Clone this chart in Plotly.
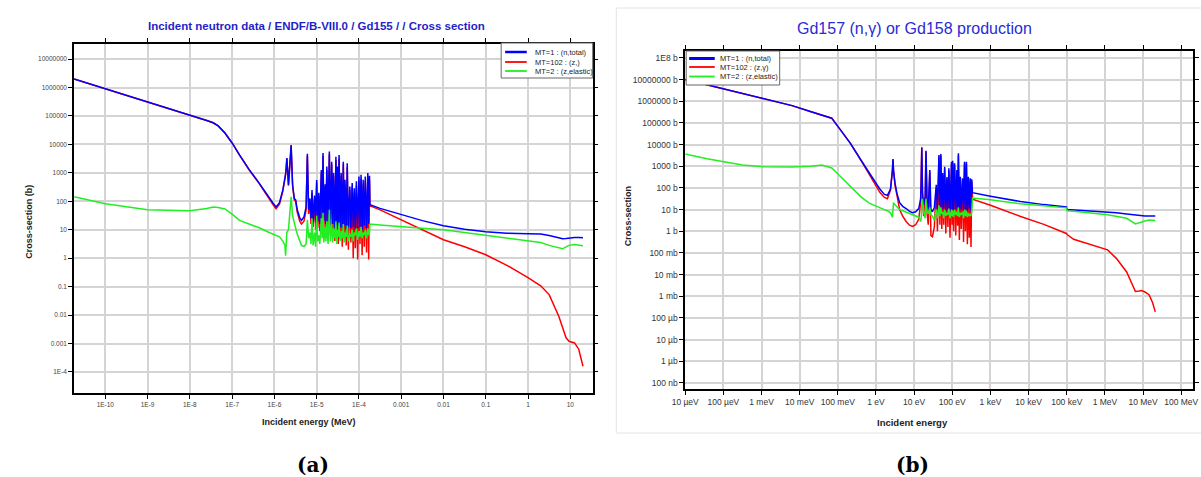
import plotly.graph_objects as go

W, H = 1201, 477

# ---------------- Panel (a): Gd155, energy in MeV (values stored as log10) ----------------
A1_LOGE = [-10.74, -10.0, -9.0, -8.0, -7.6, -7.45, -7.33, -7.17, -7.0, -6.825, -6.6, -6.36, -6.15, -6.03, -5.96, -5.88, -5.8]
A1_TOT = [6.3, 5.96, 5.5, 5.03, 4.84, 4.76, 4.65, 4.4, 4.05, 3.63, 3.12, 2.64, 2.17, 1.93, 1.8, 1.95, 2.4]
A1_CAP = [6.3, 5.96, 5.5, 5.03, 4.84, 4.76, 4.65, 4.4, 4.05, 3.62, 3.11, 2.62, 2.13, 1.88, 1.74, 1.9, 2.36]
A1_ELA = [2.16, 1.91, 1.7, 1.67, 1.75, 1.8, 1.78, 1.73, 1.55, 1.33, 1.2, 1.07, 0.92, 0.85, 0.8, 0.75, 0.6]

A2_LOGE = [-5.75, -5.736, -5.72, -5.705, -5.667, -5.604, -5.57, -5.53, -5.497, -5.46, -5.40, -5.36, -5.30, -5.25,
           -5.22, -5.19, -5.16, -5.135, -5.11, -5.085, -5.05, -5.025, -5.0, -4.975, -4.95, -4.925, -4.89, -4.87,
           -4.85, -4.83, -4.80, -4.78, -4.76, -4.73, -4.70, -4.675, -4.645, -4.62, -4.60, -4.57, -4.545, -4.525,
           -4.51, -4.49, -4.47, -4.445, -4.42, -4.395, -4.37, -4.35, -4.33, -4.30, -4.277, -4.25, -4.215, -4.19,
           -4.16, -4.135, -4.11, -4.085, -4.06, -4.03, -4.0, -3.975, -3.95, -3.925, -3.9, -3.875, -3.85, -3.82,
           -3.79, -3.77, -3.75]
A2_TOT = [2.75, 2.95, 3.2, 3.52, 2.58, 3.98, 2.6, 2.1, 2.05, 1.7, 1.42, 1.33, 1.45, 1.8,
          3.67, 1.7, 2.1, 1.4, 2.4, 1.3, 2.2, 1.25, 2.75, 1.3, 2.3, 1.2, 3.1, 1.4,
          3.7, 1.3, 2.6, 1.2, 3.22, 1.3, 3.75, 1.1, 3.39, 1.2, 2.99, 1.05, 3.57, 1.15,
          3.22, 1.0, 3.63, 1.1, 2.99, 1.05, 3.39, 1.15, 2.76, 1.0, 3.34, 1.1, 2.52, 1.05,
          2.64, 1.1, 2.46, 1.0, 2.7, 1.05, 2.87, 1.1, 2.93, 1.0, 2.76, 1.15, 2.87, 1.05,
          2.99, 1.2, 2.9]
A2_CAP = [2.72, 2.93, 3.18, 3.5, 2.55, 3.95, 2.55, 2.05, 2.0, 1.62, 1.3, 1.2, 1.3, 1.7,
          3.6, 1.55, 2.0, 1.2, 2.3, 1.1, 2.1, 1.0, 2.65, 1.05, 2.2, 0.95, 3.0, 1.1,
          3.6, 1.0, 2.5, 0.9, 3.1, 0.9, 3.65, 0.8, 3.3, 0.7, 2.9, 0.6, 3.45, 0.75,
          3.1, 0.5, 3.5, 0.65, 2.9, 0.4, 3.3, 0.7, 2.6, 0.45, 3.2, 0.3, 2.4, 0.55,
          2.5, 0.0, 2.3, 0.35, 2.55, -0.05, 2.7, 0.5, 2.8, 0.1, 2.6, 0.4, 2.7, 0.2,
          2.85, -0.05, 2.75]
A2_ELA = [0.45, 0.09, 0.6, 0.9, 1.0, 2.16, 1.5, 1.2, 1.05, 0.85, 0.6, 0.45, 0.41, 0.5,
          1.35, 0.7, 0.9, 0.5, 1.4, 0.45, 0.9, 0.4, 1.5, 0.6, 0.8, 0.5, 1.4, 0.7,
          1.6, 0.55, 1.1, 0.6, 1.3, 0.5, 1.7, 0.6, 1.2, 0.55, 1.05, 0.7, 1.3, 0.5,
          1.0, 0.75, 1.25, 0.6, 0.95, 0.7, 1.2, 0.55, 0.9, 0.75, 1.15, 0.6, 0.85, 0.75,
          1.0, 0.6, 0.9, 0.8, 1.05, 0.65, 0.95, 0.75, 1.1, 0.7, 0.9, 0.8, 1.0, 0.7,
          1.05, 0.8, 0.9]

A3_LOGE = [-3.74, -3.5, -3.0, -2.5, -2.0, -1.5, -1.0, -0.5, 0.0, 0.3, 0.5, 0.73, 0.82, 0.9, 0.97, 1.1, 1.2, 1.3]
A3_TOT = [1.88, 1.75, 1.53, 1.32, 1.14, 1.02, 0.93, 0.88, 0.86, 0.85, 0.8, 0.71, 0.68, 0.69, 0.71, 0.73, 0.73, 0.72]
A3_CAP = [1.84, 1.7, 1.35, 1.0, 0.65, 0.4, 0.12, -0.25, -0.68, -0.97, -1.28, -2.05, -2.45, -2.8, -2.92, -2.98, -3.2, -3.8]
A3_ELA = [1.2, 1.17, 1.1, 1.05, 1.0, 0.9, 0.82, 0.72, 0.62, 0.55, 0.45, 0.36, 0.33, 0.4, 0.45, 0.48, 0.47, 0.44]

# ---------------- Panel (b): Gd157, energy in eV (values stored as log10) ----------------
B1_LOGE = [-5.0, -4.43, -3.5, -2.94, -2.2, -1.7, -1.42, -1.16, -0.97, -0.67, -0.4, -0.18, 0.1, 0.22, 0.3]
B1_TOT = [7.0, 6.75, 6.35, 6.1, 5.8, 5.52, 5.37, 5.22, 4.77, 4.06, 3.3, 2.69, 1.95, 1.7, 1.66]
B1_CAP = [7.0, 6.75, 6.35, 6.1, 5.8, 5.52, 5.37, 5.22, 4.77, 4.06, 3.29, 2.66, 1.8, 1.56, 1.5]
B1_ELA = [3.57, 3.35, 3.06, 2.98, 2.97, 3.0, 3.06, 2.92, 2.6, 2.05, 1.6, 1.3, 1.07, 1.0, 0.95]

B2_LOGE = [0.38, 0.42, 0.43, 0.446, 0.46, 0.50, 0.55, 0.62, 0.70, 0.79, 0.88, 0.96, 1.04, 1.12, 1.17, 1.185,
           1.2, 1.22, 1.25, 1.29, 1.31, 1.34, 1.37, 1.41, 1.44, 1.48, 1.53, 1.58, 1.61, 1.65, 1.675, 1.70,
           1.725, 1.75, 1.775, 1.80, 1.83, 1.86, 1.885, 1.91, 1.94, 1.98, 1.995, 2.01, 2.035, 2.06, 2.09,
           2.12, 2.14, 2.16, 2.185, 2.21, 2.235, 2.27, 2.295, 2.32, 2.345, 2.37, 2.395, 2.42, 2.445, 2.47,
           2.49, 2.51]
B2_TOT = [1.95, 2.5, 2.8, 3.33, 2.8, 2.2, 1.75, 1.32, 1.15, 1.05, 0.92, 0.86, 0.9, 1.05, 1.5, 2.2,
          3.88, 1.8, 1.2, 1.6, 3.72, 1.3, 1.0, 2.83, 1.0, 0.9, 1.1, 2.14, 1.0, 3.52, 1.1, 3.57,
          1.0, 2.69, 1.05, 2.98, 0.95, 2.5, 1.0, 2.91, 0.9, 3.21, 1.0, 3.25, 0.95, 3.14, 1.0,
          2.83, 1.05, 3.6, 0.9, 2.52, 1.0, 2.45, 0.95, 3.21, 1.0, 3.21, 0.9, 2.52, 1.05, 2.45,
          0.95, 2.4]
B2_CAP = [1.9, 2.48, 2.78, 3.31, 2.77, 2.12, 1.6, 1.0, 0.7, 0.45, 0.28, 0.22, 0.3, 0.55, 1.3, 2.1,
          3.85, 1.5, 0.7, 1.4, 3.68, 0.8, 0.3, 2.75, -0.2, -0.25, 0.2, 2.0, 0.0, 3.45, 0.3, 3.5,
          0.1, 2.6, 0.3, 2.9, -0.1, 2.4, 0.2, 2.8, -0.3, 3.1, 0.3, 3.15, 0.0, 3.05, -0.2,
          2.7, 0.25, 3.5, -0.4, 2.4, 0.1, 2.35, -0.5, 3.1, 0.0, 3.1, -0.6, 2.4, -0.3, 2.3,
          -0.72, 2.3]
B2_ELA = [0.85, 0.7, 0.64, 1.0, 1.32, 1.22, 1.12, 1.0, 0.95, 0.88, 0.8, 0.75, 0.7, 0.65, 0.45, 0.6,
          1.2, 1.5, 0.9, 0.6, 1.5, 0.9, 0.8, 1.1, 0.75, 0.7, 0.5, 1.0, 0.6, 1.2, 0.7, 1.1,
          0.8, 0.9, 0.6, 1.0, 0.7, 0.85, 0.75, 1.05, 0.6, 1.0, 0.7, 0.95, 0.65, 1.0, 0.75,
          0.9, 0.7, 1.1, 0.65, 0.85, 0.75, 0.9, 0.6, 1.0, 0.7, 0.95, 0.65, 0.85, 0.7, 0.8,
          0.7, 0.9]

B3_LOGE = [2.53, 3.0, 3.79, 4.4, 4.78, 4.99, 5.01, 5.18, 6.07, 6.3, 6.57, 6.8, 6.9, 6.96, 7.05, 7.16, 7.25, 7.32]
B3_TOT = [1.78, 1.62, 1.37, 1.23, 1.14, 1.12, 1.0, 0.98, 0.9, 0.85, 0.8, 0.76, 0.73, 0.71, 0.71, 0.71, 0.71, 0.71]
B3_CAP = [1.48, 1.2, 0.68, 0.32, 0.06, -0.1, -0.15, -0.37, -0.86, -1.25, -1.88, -2.78, -2.76, -2.74, -2.8, -2.94, -3.3, -3.72]
B3_ELA = [1.53, 1.45, 1.27, 1.18, 1.12, 1.08, 0.94, 0.92, 0.76, 0.7, 0.6, 0.34, 0.4, 0.44, 0.47, 0.52, 0.51, 0.5]

# ---------------- Tick labels / text ----------------
A_XTICK_TEXT = ["1E-10", "1E-9", "1E-8", "1E-7", "1E-6", "1E-5", "1E-4", "0.001", "0.01", "0.1", "1", "10"]
A_XTICK_EXP = list(range(-10, 2))
A_YTICK_TEXT = ["10000000", "1000000", "100000", "10000", "1000", "100", "10", "1", "0.1", "0.01", "0.001", "1E-4"]
A_YTICK_EXP = list(range(7, -5, -1))
B_XTICK_TEXT = ["10 µeV", "100 µeV", "1 meV", "10 meV", "100 meV", "1 eV", "10 eV", "100 eV", "1 keV",
                "10 keV", "100 keV", "1 MeV", "10 MeV", "100 MeV"]
B_XTICK_EXP = list(range(-5, 9))
B_YTICK_TEXT = ["1E8 b", "10000000 b", "1000000 b", "100000 b", "10000 b", "1000 b", "100 b", "10 b", "1 b",
                "100 mb", "10 mb", "1 mb", "100 µb", "10 µb", "1 µb", "100 nb"]
B_YTICK_EXP = list(range(8, -8, -1))

A_NAMES = ["MT=1 : (n,total)", "MT=102 : (z,)", "MT=2 : (z,elastic)"]
B_NAMES = ["MT=1 : (n,total)", "MT=102 : (z,γ)", "MT=2 : (z,elastic)"]
COLORS = ["#0000ff", "#ff0000", "#22ee22"]


def p10(v):
    return [10 ** x for x in v]


a_E = p10(A1_LOGE + A2_LOGE + A3_LOGE)
a_series = [p10(A1_TOT + A2_TOT + A3_TOT), p10(A1_CAP + A2_CAP + A3_CAP), p10(A1_ELA + A2_ELA + A3_ELA)]
b_E = p10(B1_LOGE + B2_LOGE + B3_LOGE)
b_series = [p10(B1_TOT + B2_TOT + B3_TOT), p10(B1_CAP + B2_CAP + B3_CAP), p10(B1_ELA + B2_ELA + B3_ELA)]

fig = go.Figure()
draw_order = [1, 0, 2]  # capture, total, elastic
for i in draw_order:
    fig.add_trace(go.Scatter(x=a_E, y=a_series[i], mode="lines", name=A_NAMES[i],
                             line=dict(color=COLORS[i], width=1.5), xaxis="x", yaxis="y", showlegend=False))
for i in draw_order:
    fig.add_trace(go.Scatter(x=b_E, y=b_series[i], mode="lines", name=B_NAMES[i],
                             line=dict(color=COLORS[i], width=1.5), xaxis="x2", yaxis="y2", showlegend=False))


def px(x):
    return x / W


def py(y):
    return 1 - y / H


GRID = "#d4d4d4"
common = dict(type="log", showgrid=True, gridcolor=GRID, gridwidth=1.5, showline=True, linecolor="black",
              linewidth=1.5, mirror="ticks", ticks="outside", ticklen=4, tickcolor="black", zeroline=False)

fig.update_layout(
    width=W, height=H, margin=dict(l=0, r=0, t=0, b=0), paper_bgcolor="white", plot_bgcolor="white",
    font=dict(family="Liberation Sans, Arial, sans-serif"),
    xaxis=dict(**common, domain=[px(61), px(588)], anchor="y", range=[-10.74, 1.53],
               tickvals=p10(A_XTICK_EXP), ticktext=A_XTICK_TEXT, tickfont=dict(size=6.5, color="#444")),
    yaxis=dict(**common, domain=[py(393), py(44)], anchor="x", range=[-4.74, 7.53],
               tickvals=p10(A_YTICK_EXP), ticktext=A_YTICK_TEXT, tickfont=dict(size=6.5, color="#444")),
    xaxis2=dict(**common, domain=[px(682), px(1198)], anchor="y2", range=[-5.0, 8.31],
                tickvals=p10(B_XTICK_EXP), ticktext=B_XTICK_TEXT, tickfont=dict(size=8.5, color="#333")),
    yaxis2=dict(**common, domain=[py(389), py(51)], anchor="x2", range=[-7.28, 8.32],
                tickvals=p10(B_YTICK_EXP), ticktext=B_YTICK_TEXT, tickfont=dict(size=8.5, color="#333")),
)

shapes = []
annotations = []

# outer frame of panel (b)
shapes.append(dict(type="rect", xref="paper", yref="paper", x0=px(612), x1=px(1210), y0=py(433), y1=py(8),
                   line=dict(color="#e4e4e4", width=1), fillcolor="rgba(0,0,0,0)", layer="below"))


def legend(box, line_x, text_x, ys, names, blue_w):
    x0, x1, y0, y1 = box
    shapes.append(dict(type="rect", xref="paper", yref="paper", x0=px(x0), x1=px(x1), y0=py(y1), y1=py(y0),
                       line=dict(color="#666", width=1), fillcolor="white", layer="above"))
    for k, (yy, nm) in enumerate(zip(ys, names)):
        shapes.append(dict(type="line", xref="paper", yref="paper", x0=px(line_x[0]), x1=px(line_x[1]),
                           y0=py(yy), y1=py(yy), line=dict(color=COLORS[k], width=blue_w if k == 0 else 1.8),
                           layer="above"))
        annotations.append(dict(text=nm, xref="paper", yref="paper", x=px(text_x), y=py(yy), xanchor="left",
                                yanchor="middle", showarrow=False, font=dict(size=7.5, color="#222")))


legend((495, 588, 43, 78), (499, 521), 527, [52, 62, 71], A_NAMES, 2.5)
legend((683, 778, 51, 85), (686, 712), 715, [58.5, 67, 76.5], B_NAMES, 3)


def text(t, x, y, size, color="#222", angle=0, family=None, xanchor="center"):
    d = dict(text=t, xref="paper", yref="paper", x=px(x), y=py(y), xanchor=xanchor, yanchor="middle",
             showarrow=False, textangle=angle, font=dict(size=size, color=color))
    if family:
        d["font"]["family"] = family
    annotations.append(d)


text("<b>Incident neutron data / ENDF/B-VIII.0 / Gd155 / / Cross section</b>", 307, 26, 11.5, "#1f1fc8")
text("Gd157 (n,γ) or Gd158 production", 915, 29, 16, "#2a2ad4")
text("<b>Incident energy (MeV)</b>", 300, 422, 9)
text("<b>Cross-section (b)</b>", 15, 222, 9, angle=-90)
text("<b>Incident energy</b>", 913, 422, 9.5)
text("<b>Cross-section</b>", 624, 216, 9, angle=-90)
text("<b>(a)</b>", 304, 465, 20, "black", family="DejaVu Serif")
text("<b>(b)</b>", 913, 465, 20, "black", family="DejaVu Serif")

fig.update_layout(shapes=shapes, annotations=annotations)
fig.write_html("out.html")
